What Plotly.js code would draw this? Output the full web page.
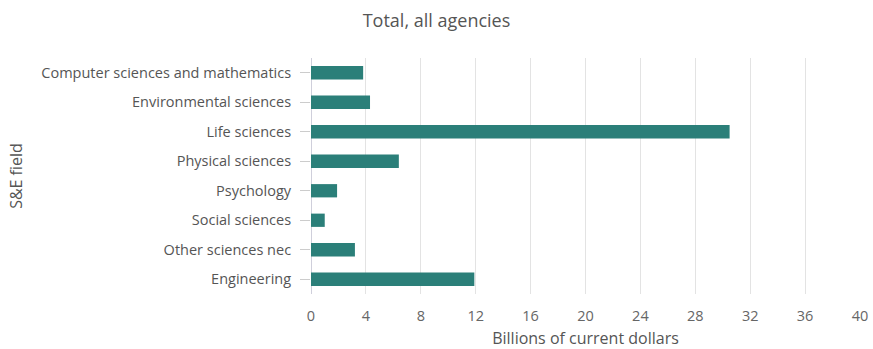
<!DOCTYPE html>
<html>
<head>
<meta charset="utf-8">
<script src="https://cdn.plot.ly/plotly-3.0.1.min.js"></script>
<style>html,body{margin:0;padding:0;background:#fff;}#chart{width:873px;height:349px;}</style>
</head>
<body>
<div id="chart"></div>
<script>
const fields = [
  "Computer sciences and mathematics",
  "Environmental sciences",
  "Life sciences",
  "Physical sciences",
  "Psychology",
  "Social sciences",
  "Other sciences nec",
  "Engineering"
];
const billions = [3.8, 4.3, 30.5, 6.4, 1.9, 1.0, 3.2, 11.9];
const xTicks = [0, 4, 8, 12, 16, 20, 24, 28, 32, 36, 40];

const trace = {
  type: "bar",
  orientation: "h",
  y: fields,
  x: billions,
  marker: {color: "#2b7f79"},
  hoverinfo: "x+y"
};

const layout = {
  width: 873,
  height: 349,
  margin: {l: 311, r: 13, t: 58, b: 55},
  paper_bgcolor: "#fff",
  plot_bgcolor: "#fff",
  font: {family: "Open Sans, sans-serif", size: 14.5, color: "#555"},
  title: {text: "Total, all agencies", font: {size: 18, color: "#555"}, x: 0.5, xanchor: "center", y: 0.942, yanchor: "middle"},
  bargap: 0.55,
  xaxis: {
    range: [0, 40],
    tickvals: xTicks,
    ticktext: xTicks.map(String),
    showgrid: true,
    gridcolor: "#e3e3e3",
    zeroline: true,
    zerolinecolor: "#cfcfdb",
    zerolinewidth: 1,
    showline: false,
    ticks: "",
    ticklabelstandoff: 11,
    tickfont: {size: 14.5, color: "#666"},
    title: {text: "Billions of current dollars", font: {size: 16, color: "#555"}, standoff: 17}
  },
  yaxis: {
    type: "category",
    categoryorder: "array",
    categoryarray: fields,
    autorange: "reversed",
    showgrid: false,
    showline: false,
    zeroline: false,
    ticks: "outside",
    ticklen: 10,
    tickcolor: "#cccccc",
    ticklabelstandoff: 6,
    tickfont: {size: 14.5, color: "#555"},
    title: {text: "S&E field", font: {size: 16, color: "#555"}, standoff: 14}
  },
  showlegend: false
};

Plotly.newPlot("chart", [trace], layout, {displayModeBar: false, staticPlot: true});
</script>
</body>
</html>
